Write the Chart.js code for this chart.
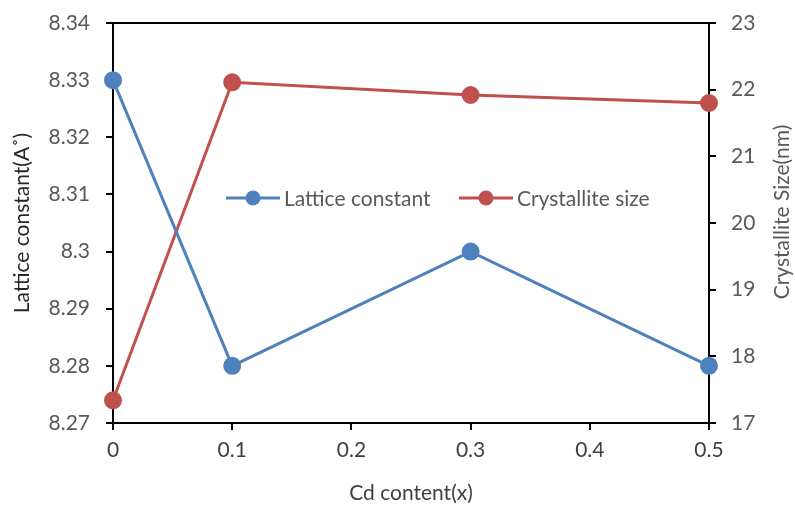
<!DOCTYPE html>
<html>
<head>
<meta charset="utf-8">
<script src="https://cdn.jsdelivr.net/npm/chart.js@4"></script>
<style>
  html, body { margin: 0; padding: 0; background: #fff; }
  #wrap { width: 795px; height: 506px; position: relative; }
</style>
</head>
<body>
<div id="wrap"><canvas id="chart"></canvas></div>
<script>
// Data
const cdContent = [0, 0.1, 0.3, 0.5];
const latticeConstant = [8.33, 8.28, 8.30, 8.28];
const crystalliteSize = [17.34, 22.11, 21.92, 21.8];
const seriesNames = ['Lattice constant', 'Crystallite size'];
const xTicks = [0, 0.1, 0.2, 0.3, 0.4, 0.5];
const rightTitle = 'Crystallite Size(nm)';

const BLUE = '#4F81BD';
const RED = '#C0504D';
const tickFont = { family: 'Lato, "Open Sans", sans-serif', size: 21 };
const narrowFont = { family: '"Liberation Sans Narrow", "Arial Narrow", Lato, sans-serif', size: 21 };

// Excel-style legend (line through a dot) inside the plot, top border, right title
const frameAndLegend = {
    id: 'frameAndLegend',
    afterDraw(chart) {
        const { ctx, chartArea } = chart;
        ctx.save();
        ctx.strokeStyle = '#000';
        ctx.lineWidth = 2;
        ctx.beginPath();
        ctx.moveTo(chartArea.left, chartArea.top);
        ctx.lineTo(chartArea.right, chartArea.top);
        ctx.stroke();

        const y = 198;
        const items = [
            { x: 226, color: BLUE, text: seriesNames[0] },
            { x: 459, color: RED, text: seriesNames[1] }
        ];
        ctx.font = '21px Lato, "Open Sans", sans-serif';
        ctx.textBaseline = 'middle';
        items.forEach(it => {
            ctx.strokeStyle = it.color;
            ctx.lineWidth = 3;
            ctx.beginPath();
            ctx.moveTo(it.x, y);
            ctx.lineTo(it.x + 54, y);
            ctx.stroke();
            ctx.fillStyle = it.color;
            ctx.beginPath();
            ctx.arc(it.x + 27, y, 7.5, 0, Math.PI * 2);
            ctx.fill();
            ctx.fillStyle = '#595959';
            ctx.fillText(it.text, it.x + 58, y + 1);
        });

        // right axis title, reading bottom-to-top like the reference
        ctx.translate(782, 212);
        ctx.rotate(-Math.PI / 2);
        ctx.textAlign = 'center';
        ctx.fillStyle = '#595959';
        ctx.fillText(rightTitle, 0, 0);
        ctx.restore();
    }
};

function toPoints(xs, ys) {
    return xs.map((x, i) => ({ x: x, y: ys[i] }));
}

function fitY(width) {
    return axis => {
        axis.width = width;
        axis.paddingTop = 0;
        axis.paddingBottom = 0;
    };
}

new Chart(document.getElementById('chart'), {
    type: 'line',
    data: {
        datasets: [{
            label: seriesNames[0],
            data: toPoints(cdContent, latticeConstant),
            yAxisID: 'y',
            borderColor: BLUE,
            backgroundColor: BLUE,
            borderWidth: 3,
            pointRadius: 7.5,
            pointHoverRadius: 7.5,
            tension: 0
        }, {
            label: seriesNames[1],
            data: toPoints(cdContent, crystalliteSize),
            yAxisID: 'y1',
            borderColor: RED,
            backgroundColor: RED,
            borderWidth: 3,
            pointRadius: 7.5,
            pointHoverRadius: 7.5,
            tension: 0
        }]
    },
    options: {
        responsive: true,
        maintainAspectRatio: false,
        animation: false,
        clip: false,
        layout: { padding: { top: 23, right: 0, bottom: 0, left: 0 } },
        plugins: {
            legend: { display: false },
            tooltip: { enabled: false }
        },
        scales: {
            x: {
                type: 'linear',
                min: 0,
                max: 0.5,
                afterBuildTicks: axis => { axis.ticks = xTicks.map(v => ({ value: v })); },
                afterFit: axis => { axis.height = 83; },
                border: { color: '#000', width: 2 },
                grid: { drawOnChartArea: false, color: '#000', lineWidth: 2, tickLength: 7 },
                ticks: { color: '#404040', font: narrowFont, padding: 8, maxRotation: 0 },
                title: { display: true, text: 'Cd content(x)', color: '#404040', font: narrowFont, padding: { top: 2, bottom: 0 } }
            },
            y: {
                position: 'left',
                min: 8.27,
                max: 8.34,
                afterFit: fitY(113),
                border: { color: '#000', width: 2 },
                grid: { drawOnChartArea: false, color: '#000', lineWidth: 2, tickLength: 7 },
                ticks: { stepSize: 0.01, color: '#595959', font: tickFont, padding: 16,
                         callback: v => String(parseFloat(v.toFixed(2))) },
                title: { display: true, text: 'Lattice constant(A˚)', color: '#262626', font: tickFont, padding: { top: 10, bottom: 0 } }
            },
            y1: {
                position: 'right',
                min: 17,
                max: 23,
                afterFit: fitY(86),
                border: { color: '#000', width: 2 },
                grid: { drawOnChartArea: false, color: '#000', lineWidth: 2, tickLength: 7 },
                ticks: { stepSize: 1, color: '#595959', font: tickFont, padding: 15 },
                title: { display: false }
            }
        }
    },
    plugins: [frameAndLegend]
});
</script>
</body>
</html>
